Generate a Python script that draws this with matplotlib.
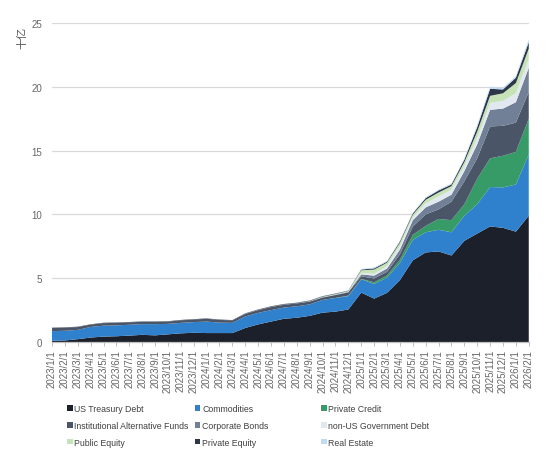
import matplotlib
matplotlib.use("Agg")
import matplotlib.pyplot as plt
from matplotlib.patches import Patch

plt.rcParams['font.family'] = ['Liberation Sans', 'Noto Sans CJK SC', 'DejaVu Sans']

months = [
    "2023/1/1", "2023/2/1", "2023/3/1", "2023/4/1", "2023/5/1", "2023/6/1",
    "2023/7/1", "2023/8/1", "2023/9/1", "2023/10/1", "2023/11/1", "2023/12/1",
    "2024/1/1", "2024/2/1", "2024/3/1", "2024/4/1", "2024/5/1", "2024/6/1",
    "2024/7/1", "2024/8/1", "2024/9/1", "2024/10/1", "2024/11/1", "2024/12/1",
    "2025/1/1", "2025/2/1", "2025/3/1", "2025/4/1", "2025/5/1", "2025/6/1",
    "2025/7/1", "2025/8/1", "2025/9/1", "2025/10/1", "2025/11/1", "2025/12/1",
    "2026/1/1", "2026/2/1",
]

us_treasury = [0.10, 0.12, 0.22, 0.35, 0.42, 0.45, 0.50, 0.56, 0.52, 0.60, 0.68, 0.72,
               0.70, 0.70, 0.70, 1.10, 1.38, 1.60, 1.82, 1.90, 2.05, 2.30, 2.38, 2.55,
               3.87, 3.40, 3.85, 4.85, 6.40, 7.02, 7.10, 6.78, 7.93, 8.50, 9.06, 8.95,
               8.65, 9.90]
commodities = [0.75, 0.76, 0.73, 0.83, 0.86, 0.85, 0.85, 0.84, 0.88, 0.82, 0.82, 0.84,
               0.90, 0.82, 0.80, 0.90, 0.90, 0.90, 0.88, 0.90, 0.90, 1.00, 1.07, 1.05,
               1.05, 1.15, 1.20, 1.35, 1.60, 1.58, 1.70, 1.82, 1.97, 2.30, 3.09, 3.17,
               3.70, 4.80]
private_credit = [0, 0, 0, 0, 0, 0, 0, 0, 0, 0, 0, 0,
                  0, 0, 0, 0, 0, 0, 0, 0, 0, 0, 0.01, 0.04,
                  0.03, 0.13, 0.17, 0.25, 0.40, 0.50, 0.85, 0.95, 0.90, 2.00, 2.25, 2.48,
                  2.55, 2.80]
inst_alt_funds = [0.24, 0.24, 0.22, 0.18, 0.20, 0.20, 0.19, 0.18, 0.18, 0.18, 0.20, 0.20,
                  0.22, 0.21, 0.19, 0.20, 0.22, 0.24, 0.22, 0.22, 0.22, 0.18, 0.22, 0.25,
                  0.20, 0.30, 0.28, 0.43, 0.65, 0.90, 0.75, 1.45, 1.80, 1.60, 2.50, 2.35,
                  2.30, 2.10]
corporate_bonds = [0, 0, 0, 0, 0, 0, 0, 0, 0, 0, 0, 0,
                   0, 0, 0, 0.02, 0.02, 0.02, 0.02, 0.02, 0.02, 0.03, 0.03, 0.04,
                   0.15, 0.22, 0.26, 0.37, 0.50, 0.55, 0.60, 0.55, 0.80, 1.10, 1.30, 1.35,
                   1.60, 1.90]
non_us_gov_debt = [0, 0, 0, 0, 0, 0, 0, 0, 0, 0, 0, 0,
                   0, 0, 0, 0, 0, 0, 0, 0, 0, 0.01, 0.01, 0.02,
                   0.10, 0.15, 0.21, 0.27, 0.23, 0.33, 0.40, 0.40, 0.40, 0.50, 0.55, 0.60,
                   0.70, 0.70]
public_equity = [0, 0, 0, 0, 0, 0, 0, 0, 0, 0, 0, 0,
                 0, 0, 0, 0, 0, 0, 0, 0, 0.02, 0.03, 0.04, 0.05,
                 0.22, 0.33, 0.25, 0.26, 0.20, 0.27, 0.32, 0.27, 0.30, 0.50, 0.55, 0.60,
                 0.80, 0.80]
private_equity = [0.03, 0.03, 0.03, 0.03, 0.03, 0.03, 0.03, 0.03, 0.03, 0.03, 0.03, 0.03,
                  0.03, 0.03, 0.03, 0.03, 0.03, 0.04, 0.04, 0.04, 0.04, 0.04, 0.04, 0.03,
                  0.06, 0.09, 0.08, 0.10, 0.10, 0.13, 0.16, 0.13, 0.20, 0.35, 0.55, 0.30,
                  0.42, 0.50]
real_estate = [0, 0, 0, 0, 0, 0, 0, 0, 0, 0, 0, 0,
               0, 0, 0, 0, 0, 0, 0.01, 0.01, 0.01, 0.01, 0.01, 0.02,
               0.04, 0.07, 0.06, 0.05, 0.04, 0.07, 0.07, 0.07, 0.10, 0.15, 0.17, 0.12,
               0.13, 0.25]

series = [us_treasury, commodities, private_credit, inst_alt_funds, corporate_bonds,
          non_us_gov_debt, public_equity, private_equity, real_estate]
names = ["US Treasury Debt", "Commodities", "Private Credit",
         "Institutional Alternative Funds", "Corporate Bonds", "non-US Government Debt",
         "Public Equity", "Private Equity", "Real Estate"]
colors = ["#1b202b", "#2f81cd", "#379b67", "#4a5567", "#718097",
          "#e2e8f0", "#c6e3b8", "#2d3748", "#bfdcf3"]

fig = plt.figure(figsize=(5.56, 4.64), dpi=100)
ax = fig.add_axes([0.0935, 0.2608, 0.8575, 0.6872])

x = list(range(len(months)))
ax.stackplot(x, *series, colors=colors, labels=names, linewidth=0)

ax.set_xlim(0, len(months) - 1)
ax.set_ylim(0, 25)
ax.set_yticks([0, 5, 10, 15, 20, 25])
ax.grid(axis='y', color='#d9d9d9', linewidth=0.9)
ax.set_axisbelow(True)
for s in ['left', 'right', 'top']:
    ax.spines[s].set_visible(False)
ax.spines['bottom'].set_color('#bfbfbf')
ax.spines['bottom'].set_linewidth(0.9)
ax.spines['bottom'].set_zorder(5)

ax.set_xticks(x)
ax.set_xticklabels(months, rotation=90, fontsize=7, color='#666666')
ax.tick_params(axis='x', length=3, width=0.7, color='#bfbfbf', pad=2)
ax.tick_params(axis='y', length=0, pad=7, labelsize=7, labelcolor='#666666')

fig.text(22 / 556, 1 - 38 / 464, "十亿", rotation=90, ha='center', va='center',
         fontsize=8, color='#595959')

handles = [Patch(facecolor=c, edgecolor='none') for c in colors]
col_x = [0.121, 0.351, 0.578]
for ci in range(3):
    idx = [ci, ci + 3, ci + 6]
    fig.legend([handles[i] for i in idx], [names[i] for i in idx],
               loc='upper left', bbox_to_anchor=(col_x[ci], 1 - 405 / 464),
               frameon=False, ncol=1, fontsize=6.3, handlelength=0.6,
               handleheight=0.6, handletextpad=0.2, labelspacing=0.9,
               borderaxespad=0, borderpad=0, labelcolor='#404040')

fig.savefig("out.png", dpi=100)
